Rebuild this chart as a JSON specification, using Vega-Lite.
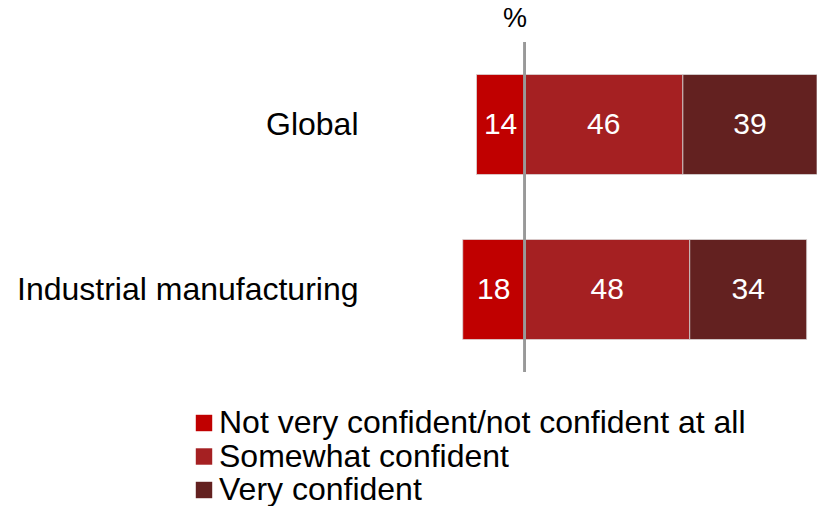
{
  "$schema": "https://vega.github.io/schema/vega-lite/v6.json",
  "autosize": {"type": "none"},
  "padding": {"left": 363, "top": 42, "right": 0, "bottom": 134},
  "width": 454,
  "height": 330,
  "background": "white",
  "config": {"font": "Liberation Sans", "view": {"stroke": null}},
  "title": {"text": "%", "anchor": "start", "frame": "group", "dx": 140, "offset": 8, "fontSize": 27, "fontWeight": "normal", "color": "#000000", "font": "Liberation Sans"},
  "data": {"values": [
    {"group": "Global", "answer": "Not very confident/not confident at all", "order": 1, "value": 14},
    {"group": "Global", "answer": "Somewhat confident", "order": 2, "value": 46},
    {"group": "Global", "answer": "Very confident", "order": 3, "value": 39},
    {"group": "Industrial manufacturing", "answer": "Not very confident/not confident at all", "order": 1, "value": 18},
    {"group": "Industrial manufacturing", "answer": "Somewhat confident", "order": 2, "value": 48},
    {"group": "Industrial manufacturing", "answer": "Very confident", "order": 3, "value": 34}
  ]},
  "transform": [
    {"stack": "value", "groupby": ["group"], "sort": [{"field": "order", "order": "ascending"}], "as": ["s0", "s1"]},
    {"calculate": "datum.order === 1 ? datum.value : 0", "as": "neg"},
    {"joinaggregate": [{"op": "sum", "field": "neg", "as": "off"}], "groupby": ["group"]},
    {"calculate": "datum.s0 - datum.off", "as": "x0"},
    {"calculate": "datum.s1 - datum.off", "as": "x1"},
    {"calculate": "(datum.x0 + datum.x1) / 2", "as": "mid"}
  ],
  "layer": [
    {
      "mark": {"type": "bar", "stroke": "#d9d9d9", "strokeWidth": 0.75},
      "encoding": {
        "y": {"field": "group", "type": "nominal", "sort": ["Global", "Industrial manufacturing"],
          "scale": {"paddingInner": 0.394, "paddingOuter": 0.197},
          "axis": {"title": null, "ticks": false, "domain": false, "labelFontSize": 32, "labelColor": "#000000", "labelPadding": 5, "labelFont": "Liberation Sans", "labelLimit": 400}},
        "x": {"field": "x0", "type": "quantitative", "scale": {"domain": [-47, 85], "nice": false, "zero": false}, "axis": null},
        "x2": {"field": "x1"},
        "color": {"field": "answer", "type": "nominal",
          "scale": {"domain": ["Not very confident/not confident at all", "Somewhat confident", "Very confident"], "range": ["#C00000", "#A52022", "#632120"]},
          "legend": {"title": null, "orient": "none", "legendX": -175, "legendY": 365, "direction": "vertical", "symbolType": "square", "symbolSize": 270, "symbolStrokeWidth": 0, "labelFontSize": 32, "labelColor": "#000000", "labelFont": "Liberation Sans", "labelOffset": -1, "rowPadding": 1.5, "labelLimit": 600}}
      }
    },
    {
      "mark": {"type": "text", "color": "white", "fontSize": 30, "font": "Liberation Sans", "baseline": "middle", "align": "center"},
      "encoding": {
        "y": {"field": "group", "type": "nominal", "sort": ["Global", "Industrial manufacturing"]},
        "x": {"field": "mid", "type": "quantitative"},
        "text": {"field": "value", "type": "quantitative"}
      }
    },
    {
      "mark": {"type": "rule", "color": "#999999", "strokeWidth": 2},
      "encoding": {"x": {"datum": 0}}
    }
  ]
}
